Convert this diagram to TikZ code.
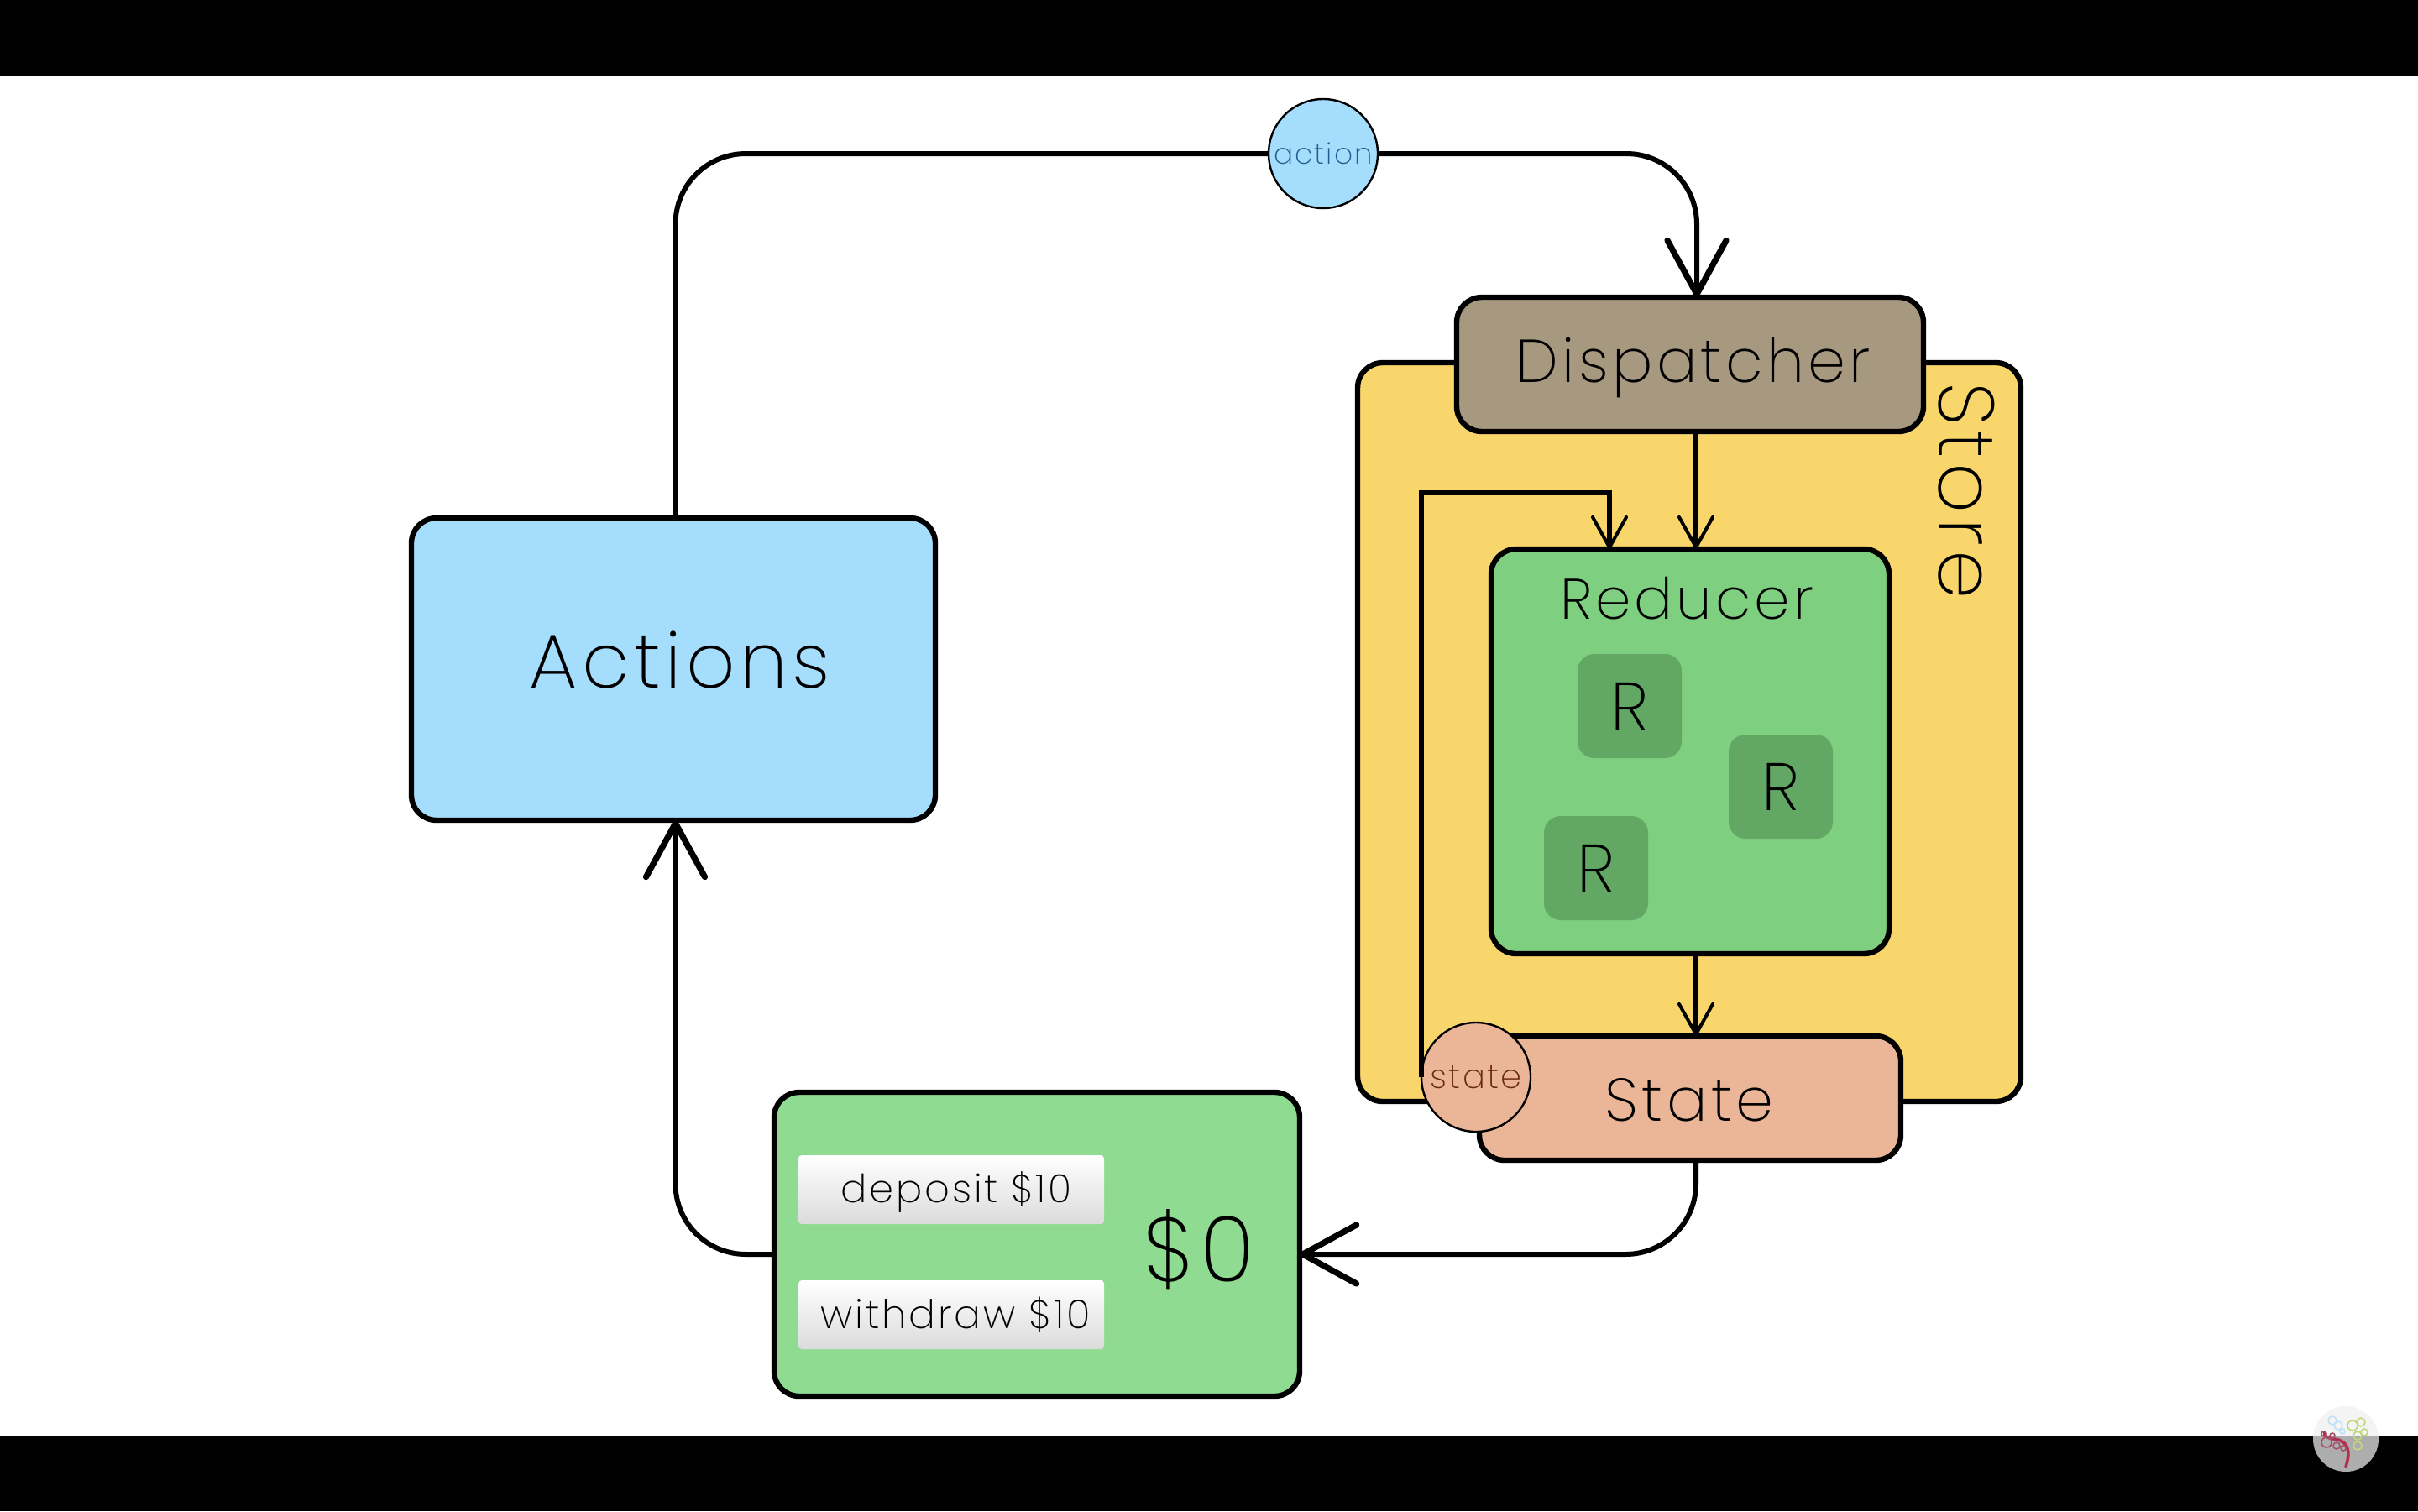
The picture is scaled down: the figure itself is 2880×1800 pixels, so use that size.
\documentclass[tikz,border=0pt]{standalone}
\usepackage{fontspec}
\setmainfont{Poppins}[UprightFont=* ExtraLight,LetterSpace=6]
\usetikzlibrary{arrows.meta,calc}
\definecolor{storeY}{HTML}{F9D66B}
\definecolor{dispB}{HTML}{A79880}
\definecolor{reducG}{HTML}{7FCF80}
\definecolor{rG}{HTML}{62A864}
\definecolor{stateO}{HTML}{EBB698}
\definecolor{actB}{HTML}{A5DDFD}
\definecolor{viewG}{HTML}{8FDB92}
\definecolor{actTxt}{HTML}{1F5F8F}
\definecolor{stTxt}{HTML}{6B2A12}
\definecolor{stem}{HTML}{B0304F}
\definecolor{curlR}{HTML}{A8506A}
\definecolor{curlB}{HTML}{BFE3F5}
\definecolor{curlG}{HTML}{C2D67A}
\newcommand{\fs}[1]{\fontsize{#1}{#1}\selectfont}
\tikzset{
  box/.style={draw=black,line width=1.6pt,rounded corners=7.5pt,inner sep=0pt,outer sep=0pt,align=center},
  rbox/.style={fill=rG,rounded corners=5pt,minimum width=31pt,minimum height=31pt,inner sep=0pt,font=\fs{20}},
  bub/.style={circle,draw=black,line width=.6pt,minimum size=32.5pt,inner sep=0pt,outer sep=0pt},
  btn/.style={top color=white,bottom color=black!14,rounded corners=1pt,minimum width=91pt,minimum height=20.5pt,inner sep=0pt},
  wire/.style={draw=black,line width=1.5pt,rounded corners=21pt},
  wirethin/.style={draw=black,line width=1.3pt},
  bigtip/.style={-{Straight Barb[length=16pt,width=17.5pt,line width=1.8pt,round]}},
  smalltip/.style={-{Straight Barb[length=9pt,width=10pt,line width=1pt,round]}},
}
\begin{document}
\begin{tikzpicture}[x=0.25pt,y=-0.25pt]
\useasboundingbox (0,0) rectangle (2880,1800);
\fill[white] (0,0) rectangle (2880,1800);
\fill[black] (0,0) rectangle (2880,90);
\fill[black] (0,1710) rectangle (2880,1800);

% Store panel
\node[box,fill=storeY,minimum width=197.5pt,minimum height=220pt,anchor=north west] (store) at (1617,432) {};
\node[rotate=-90,font=\fs{23.4}] (storelbl) at (2342,585) {Store};
% Dispatcher
\node[box,fill=dispB,minimum width=139pt,minimum height=40pt,anchor=north west] (disp) at (1735,354) {};
\node[font=\fs{18}] (displbl) at (2017,438) {Dispatcher};
% Reducer
\node[box,fill=reducG,minimum width=118.5pt,minimum height=120.5pt,anchor=north west] (red) at (1776,654) {};
\node[font=\fs{17}] (redlbl) at (2009,713) {Reducer};
\node[rbox] (r1) at (1941,841) {R};
\node[rbox] (r2) at (2121,937) {R};
\node[rbox] (r3) at (1901,1034) {R};
% State
\node[box,fill=stateO,minimum width=125.5pt,minimum height=37pt,anchor=north west] (state) at (1762,1234) {};
\node[font=\fs{18}] (statelbl) at (2012,1310) {State};
\node[bub,fill=stateO,text=stTxt,font=\fs{10}] (sc) at (1758,1283) {state};
% Actions
\node[box,fill=actB,minimum width=156pt,minimum height=90pt,anchor=north west] (act) at (490,617) {};
\node[font=\fs{22.8}] (actlbl) at (810,786) {Actions};
% View
\node[box,fill=viewG,minimum width=156.5pt,minimum height=90.5pt,anchor=north west] (view) at (922,1301) {};
\node[btn,font=\fs{11.6}] (dep) at (1133,1417) {};
\node[btn,font=\fs{11.6}] (wd) at (1133,1566) {};
\node[font=\fs{11.6}] (deplbl) at (1139,1420) {deposit \$10};
\node[font=\fs{11.8}] (wdlbl) at (1138,1566) {withdraw \$10};
\node[font=\fs{27}] (amt) at (1428,1488) {\$0};
% action bubble
\node[bub,fill=actB,text=actTxt,font=\fs{8.6}] (ac) at (1576,183) {action};

% Connectors
\coordinate (actT) at ($(act.north)+(2.5,0)$);
\coordinate (actB2) at ($(act.south)+(2.5,0)$);
\coordinate (dispT) at ($(disp.north)+(8,0)$);
\coordinate (dispB2) at ($(disp.south)+(7,0)$);
\coordinate (redT) at (dispB2 |- red.north);
\coordinate (redB) at (dispB2 |- red.south);
\coordinate (stT) at (dispB2 |- state.north);
\coordinate (stB) at (dispB2 |- state.south);
\coordinate (redT2) at (1917,654);
\coordinate (viewE) at ($(view.east)+(0,12)$);
\coordinate (viewW) at ($(view.west)+(0,12)$);
\draw[wire] (actT) |- (ac.west);
\draw[wire,bigtip] (ac.east) -| (dispT);
\draw[wirethin,smalltip] (dispB2) -- (redT);
\draw[wirethin,smalltip] (redB) -- (stT);
\draw[wirethin,smalltip] (sc.west) -- (1693,587) -- (1917,587) -- (redT2);
\draw[wire,bigtip] (stB) |- (viewE);
\draw[wire,bigtip] (viewW) -| (actB2);

% watermark
\begin{scope}
\fill[white!94!black,opacity=.72] (2794,1714) circle (39);
\draw[stem,line width=.9pt,line cap=round] (2794,1747) .. controls (2800,1728) and (2797,1716) .. (2780,1714) .. controls (2772,1713) and (2767,1710) .. (2769,1706);
\foreach \x/\y/\r/\c in {2771/1718/6/curlR,2783/1722/4/curlR,2791/1725/3/curlR,2768/1708/3/curlR,2778/1710/3/curlR,
 2778/1692/5/curlB,2785/1698/5/curlB,2790/1705/3/curlB,
 2802/1698/6/curlG,2812/1694/5/curlG,2808/1710/5/curlG,2816/1706/4/curlG,2808/1722/5/curlG}
  \draw[\c,line width=.4pt] (\x,\y) circle (\r);
\end{scope}
\end{tikzpicture}
\end{document}
